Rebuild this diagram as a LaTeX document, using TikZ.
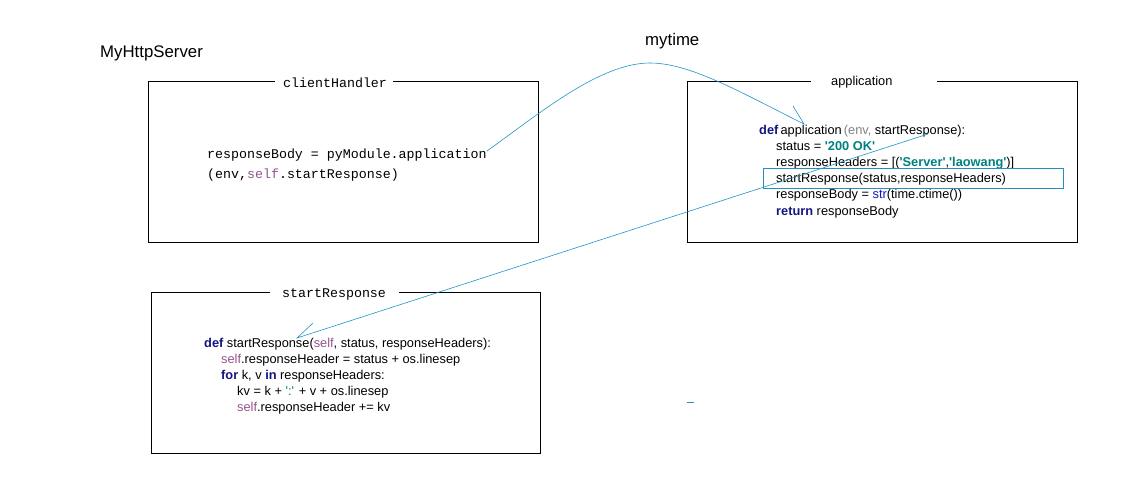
\documentclass[tikz,border=0pt]{standalone}
\usepackage{fontspec}
\setmainfont{Liberation Sans}[Ligatures=TeXOff]
\newfontfamily\monof{Liberation Mono}[Ligatures=TeXOff]
\newcommand\sqt{'}
\definecolor{linkc}{RGB}{30,150,200}
\definecolor{hlc}{RGB}{40,140,190}
\definecolor{kw}{RGB}{20,20,130}
\definecolor{slf}{RGB}{148,85,141}
\definecolor{strc}{RGB}{0,128,128}
\definecolor{grc}{RGB}{130,130,130}
\definecolor{fnc}{RGB}{20,20,200}
\begin{document}
\begin{tikzpicture}[x=1pt,y=-1pt,
  code/.style={anchor=base west, inner sep=0pt, font=\fontsize{12.8}{15}\selectfont},
  mono/.style={anchor=base west, inner sep=0pt, font=\fontsize{13.3}{16}\selectfont\monof},
  big/.style={anchor=base west, inner sep=0pt, font=\fontsize{16.8}{20}\selectfont},
  frame/.style={draw=black, line width=0.8pt},
  linkline/.style={draw=linkc, line width=0.6pt}]
\useasboundingbox (0,0) rectangle (1138,482);
\fill[white] (0,0) rectangle (1138,482);

% headings
\node[big] (srv) at (100,57) {MyHttpServer};
\node[big] (mytime) at (645,45) {mytime};

% clientHandler box
\draw[frame] (393,81) -- (538,81) -- (538,242) -- (148,242) -- (148,81) -- (275,81);
\node[mono] (chT) at (283,87) {clientHandler};
\node[mono] (cb1) at (207,158) {responseBody = pyModule.application};
\node[mono] (cb2) at (207,178) {(env,\textcolor{slf}{self}.startResponse)};

% application box
\draw[frame] (937,81) -- (1077,81) -- (1077,242) -- (687,242) -- (687,81) -- (811,81);
\node[code] (apT) at (831,85) {application};
\node[code] (a1) at (759,134) {\textcolor{kw}{\textbf{def}}\,application\,\textcolor{grc}{(env,} startResponse):};
\node[code] (a2) at (776,150) {status = \textcolor{strc}{\textbf{\sqt 200 OK\sqt}}};
\node[code] (a3) at (776,166) {responseHeaders = [(\textcolor{strc}{\textbf{\sqt Server\sqt}},\textcolor{strc}{\textbf{\sqt laowang\sqt}})]};
\node[code] (a4) at (776,182) {startResponse(status,responseHeaders)};
\node[code] (a5) at (776,198) {responseBody = \textcolor{fnc}{str}(time.ctime())};
\node[code] (a6) at (776,215) {\textcolor{kw}{\textbf{return}} responseBody};
\node[draw=hlc, line width=0.8pt, anchor=north west, minimum width=300pt, minimum height=20pt, inner sep=0pt] (hl) at (763,168) {};

% startResponse box
\draw[frame] (399,292) -- (540,292) -- (540,453) -- (151,453) -- (151,292) -- (270,292);
\node[mono] (srT) at (282,297) {startResponse};
\node[code] (s1) at (204,347) {\textcolor{kw}{\textbf{def}} startResponse(\textcolor{slf}{self}, status, responseHeaders):};
\node[code] (s2) at (221,363) {\textcolor{slf}{self}.responseHeader = status + os.linesep};
\node[code] (s3) at (221,379) {\textcolor{kw}{\textbf{for}} k, v \textcolor{kw}{\textbf{in}} responseHeaders:};
\node[code] (s4) at (237,395) {kv = k + \textcolor{strc}{\sqt:\sqt} + v + os.linesep};
\node[code] (s5) at (237,411) {\textcolor{slf}{self}.responseHeader += kv};

% connectors
\coordinate (c1s) at (487,151);
\coordinate (c1p) at (650,63);
\coordinate (c1e) at (804,124);
\coordinate (c1b) at (793,106);
\draw[linkline] (c1s) .. controls (540,113) and (600,63) .. (c1p)
  .. controls (690,63) and (740,92) .. (c1e) -- (c1b);

\coordinate (c2s) at (928,134);
\coordinate (c2e) at (297,338);
\coordinate (c2b) at (313,323);
\draw[linkline] (c2s) -- (c2e) -- (c2b);

\coordinate (d1) at (687,402);
\coordinate (d2) at (694,402);
\draw[linkline, line width=1pt] (d1) -- (d2);
\end{tikzpicture}
\end{document}
